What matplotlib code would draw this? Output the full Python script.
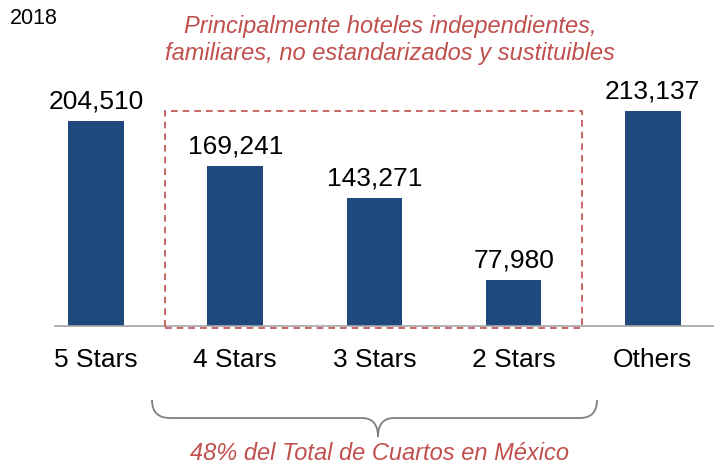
import matplotlib.pyplot as plt
from matplotlib.patches import Rectangle, PathPatch
from matplotlib.path import Path

categories = ["5 Stars", "4 Stars", "3 Stars", "2 Stars", "Others"]
rooms = [204510, 169241, 143271, 77980, 213137]
year_label = "2018"
note_top = "Principalmente hoteles independientes,\nfamiliares, no estandarizados y sustituibles"
note_bottom = "48% del Total de Cuartos en México"

W, H = 714, 463
bar_color = "#1F497D"
red = "#C0504D"
plt.rcParams['font.family'] = ['Liberation Sans', 'DejaVu Sans']

fig = plt.figure(figsize=(W / 100, H / 100), dpi=100)


def fx(x):
    return x / W


def fy(y):
    return 1 - y / H


# axes: left 55px, right edge of figure, baseline at y=326
ax = fig.add_axes([fx(55), fy(326), fx(714) - fx(55), fy(100) - fy(326)])
xs = list(range(len(categories)))
ax.bar(xs, rooms, width=0.40, color=bar_color)
ax.set_xlim(-0.295, 4.44)
ax.set_ylim(40800, 221700)
for x, v in zip(xs, rooms):
    ax.text(x, v + 6000, f"{v:,}", ha="center", va="bottom", fontsize=19, clip_on=False)

for s in ["top", "right", "left"]:
    ax.spines[s].set_visible(False)
ax.spines["bottom"].set_color("#A6A6A6")
ax.spines["bottom"].set_linewidth(1.2)
ax.set_yticks([])
ax.set_xticks(xs)
ax.set_xticklabels(categories, fontsize=19)
ax.tick_params(axis="x", length=0, pad=16)

fig.text(fx(10), fy(18), year_label, fontsize=15.5, va="center", ha="left")
fig.text(fx(390), fy(40), note_top, fontsize=17, color=red, style="italic",
         ha="center", va="center", linespacing=1.25)
fig.text(fx(380), fy(453), note_bottom, fontsize=17, color=red, style="italic",
         ha="center", va="center")

# dashed box around the middle bars
box = Rectangle((fx(165), fy(328)), fx(582) - fx(165), fy(111) - fy(328),
                transform=fig.transFigure, fill=False, edgecolor=red,
                linestyle=(0, (4, 3)), linewidth=1.2)
fig.add_artist(box)

# curly brace below the labels
pts = [(152, 400), (152, 418), (170, 418),
       (362, 418), (378, 418), (378, 437),
       (378, 418), (394, 418), (580, 418),
       (597, 418), (597, 400)]
codes = [Path.MOVETO, Path.CURVE3, Path.CURVE3,
         Path.LINETO, Path.CURVE3, Path.CURVE3,
         Path.CURVE3, Path.CURVE3, Path.LINETO,
         Path.CURVE3, Path.CURVE3]
brace = Path([(fx(x), fy(y)) for x, y in pts], codes)
fig.add_artist(PathPatch(brace, transform=fig.transFigure, fill=False,
                         edgecolor="#7F7F7F", linewidth=1.3))

fig.savefig("out.png", dpi=100)
